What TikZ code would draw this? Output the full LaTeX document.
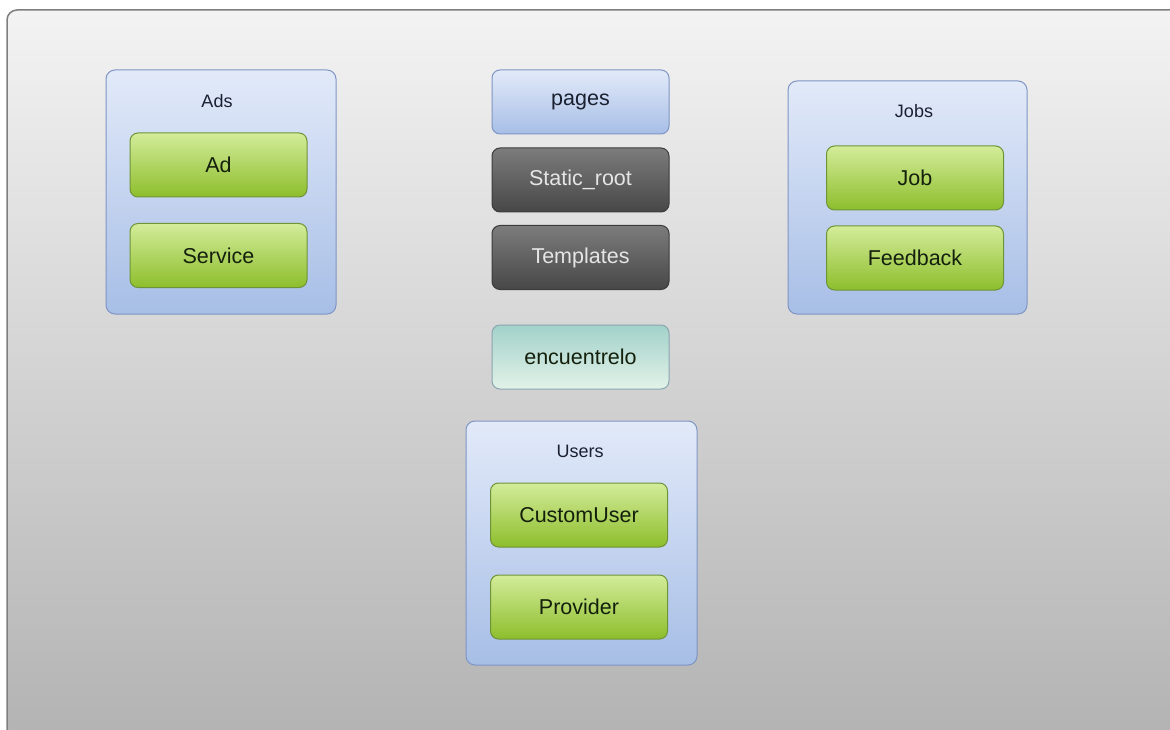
\documentclass[tikz,border=0pt]{standalone}
\usepackage{fontspec}
\setmainfont{Liberation Sans}
\definecolor{panelTop}{HTML}{F3F3F3}
\definecolor{panelBot}{HTML}{B3B3B3}
\definecolor{panelEdge}{HTML}{7E7E7E}
\definecolor{pkgTop}{HTML}{E2EAF9}
\definecolor{pkgBot}{HTML}{A7BEE6}
\definecolor{pkgEdge}{HTML}{7F95C4}
\definecolor{modTop}{HTML}{D3EC9A}
\definecolor{modBot}{HTML}{8DBE2C}
\definecolor{modEdge}{HTML}{6E9438}
\definecolor{modText}{HTML}{14200C}
\definecolor{dirTop}{HTML}{7C7C7C}
\definecolor{dirBot}{HTML}{474747}
\definecolor{dirEdge}{HTML}{3C3C3C}
\definecolor{prjTop}{HTML}{A2D2CA}
\definecolor{prjBot}{HTML}{E2F2E8}
\definecolor{prjEdge}{HTML}{8AA6B0}
\definecolor{lblText}{HTML}{1A2030}
\tikzset{
  every node/.style={font=\fontsize{21.5}{25}\selectfont},
  box/.style={rounded corners=8pt, minimum width=177pt, minimum height=64pt,
    inner sep=0pt, line width=1pt},
  model/.style={box, draw=modEdge, top color=modTop, bottom color=modBot, text=modText},
  folder/.style={box, draw=dirEdge, top color=dirTop, bottom color=dirBot, text=white!90!black},
  app/.style={box, draw=pkgEdge, top color=pkgTop, bottom color=pkgBot, text=lblText},
  project/.style={box, draw=prjEdge, top color=prjTop, bottom color=prjBot, text=modText},
  package/.style={rounded corners=9pt, draw=pkgEdge, line width=1pt,
    top color=pkgTop, bottom color=pkgBot, inner sep=0pt},
  pkglabel/.style={font=\fontsize{18}{21}\selectfont, text=lblText, inner sep=0pt}
}
\begin{document}
\begin{tikzpicture}[x=1pt, y=-1pt]
  \useasboundingbox (0,0) rectangle (1170,730);
  \fill[white] (0,0) rectangle (1170,730);
  % grey canvas with rounded top-left corner
  \shade[top color=panelTop, bottom color=panelBot, rounded corners=10pt]
    (7,735) -- (7,10) -- (1175,10) -- (1175,735) -- cycle;
  \draw[panelEdge, line width=1.5pt, rounded corners=10pt]
    (7,735) -- (7,10) -- (1175,10);

  % package containers
  \node[package, minimum width=230pt, minimum height=244pt] (ads) at (221,192) {};
  \node[package, minimum width=231pt, minimum height=244pt] (users) at (581.5,543) {};
  \node[package, minimum width=239pt, minimum height=233pt] (jobs) at (907.5,197.5) {};

  \node[pkglabel] (adsl) at (217,101) {Ads};
  \node[pkglabel] (usersl) at (580,451) {Users};
  \node[pkglabel] (jobsl) at (914,111) {Jobs};

  % models
  \node[model] (ad) at (218.5,165) {Ad};
  \node[model] (service) at (218.5,255.5) {Service};
  \node[model] (customuser) at (579,515) {CustomUser};
  \node[model] (provider) at (579,607) {Provider};
  \node[model] (job) at (915,178) {Job};
  \node[model] (feedback) at (915,258) {Feedback};

  % middle column
  \node[app] (pages) at (580.5,102) {pages};
  \node[folder] (static) at (580.5,180) {Static\_root};
  \node[folder] (templates) at (580.5,257.5) {Templates};
  \node[project] (encuentrelo) at (580.5,357) {encuentrelo};
\end{tikzpicture}
\end{document}
